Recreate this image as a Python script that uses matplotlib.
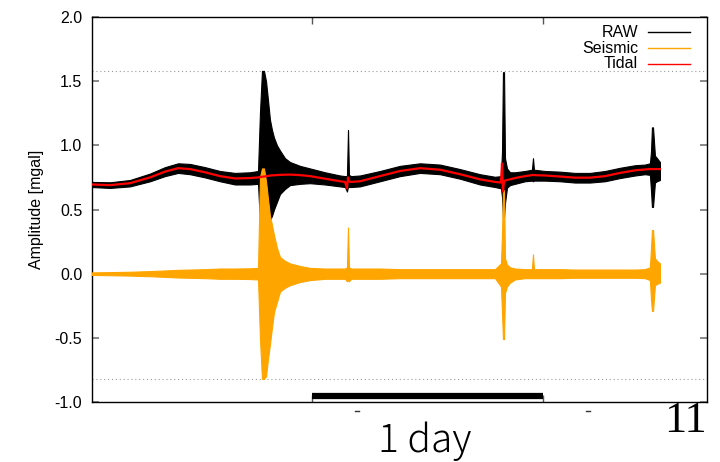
import matplotlib
matplotlib.use("Agg")
import matplotlib.pyplot as plt
from matplotlib.lines import Line2D
from matplotlib.ticker import FormatStrFormatter

plt.rcParams['axes.unicode_minus'] = False
plt.rcParams['font.family'] = ['Liberation Sans', 'DejaVu Sans']

# time in hours
t = [0.00, 1.87, 3.95, 6.03, 7.58, 8.94, 10.18, 11.74, 13.30, 14.86, 16.42, 17.25,
     17.45, 17.66, 17.87, 18.08, 18.29, 18.49, 18.70, 18.91, 19.22, 19.53, 20.05, 20.57,
     21.61, 22.65, 24.21, 25.77, 26.29, 26.49, 26.60, 26.70, 26.91, 27.84, 29.92, 32.00,
     34.08, 36.16, 38.23, 40.31, 41.87, 42.49, 42.60, 42.70, 42.81, 42.91, 43.12, 43.43,
     43.95, 44.99, 45.71, 45.82, 45.92, 47.06, 48.62, 50.18, 51.74, 53.30, 54.86, 56.42,
     57.45, 57.97, 58.08, 58.18, 58.29, 58.49, 58.70, 59.01]

tidal = [0.695, 0.690, 0.705, 0.750, 0.795, 0.822, 0.815, 0.790, 0.760, 0.742, 0.745, 0.750,
         0.752, 0.755, 0.757, 0.760, 0.762, 0.764, 0.766, 0.767, 0.768, 0.770, 0.771, 0.772,
         0.768, 0.760, 0.740, 0.720, 0.715, 0.665, 0.750, 0.720, 0.715, 0.720, 0.760, 0.800,
         0.822, 0.810, 0.775, 0.735, 0.715, 0.710, 0.860, 0.640, 0.720, 0.725, 0.730, 0.735,
         0.745, 0.760, 0.768, 0.770, 0.768, 0.765, 0.757, 0.748, 0.748, 0.760, 0.785, 0.805,
         0.812, 0.815, 0.815, 0.815, 0.815, 0.815, 0.815, 0.815]

raw_hi = [0.715, 0.712, 0.730, 0.780, 0.830, 0.860, 0.855, 0.830, 0.800, 0.785, 0.790, 0.800,
          1.250, 1.580, 1.580, 1.500, 1.350, 1.200, 1.120, 1.060, 1.000, 0.960, 0.900, 0.870,
          0.840, 0.820, 0.790, 0.765, 0.760, 0.760, 1.120, 0.770, 0.760, 0.765, 0.800, 0.840,
          0.860, 0.850, 0.815, 0.775, 0.755, 0.760, 0.950, 1.570, 1.570, 0.900, 0.820, 0.790,
          0.790, 0.800, 0.810, 0.900, 0.810, 0.800, 0.795, 0.785, 0.785, 0.800, 0.825, 0.845,
          0.850, 0.860, 0.950, 1.140, 1.140, 0.920, 0.900, 0.870]

raw_lo = [0.675, 0.668, 0.680, 0.720, 0.760, 0.785, 0.775, 0.750, 0.720, 0.695, 0.695, 0.700,
          0.400, 0.300, 0.300, 0.300, 0.300, 0.420, 0.450, 0.500, 0.560, 0.620, 0.660, 0.690,
          0.700, 0.705, 0.695, 0.680, 0.675, 0.640, 0.680, 0.675, 0.675, 0.680, 0.720, 0.760,
          0.785, 0.775, 0.740, 0.695, 0.675, 0.665, 0.600, 0.440, 0.440, 0.550, 0.670, 0.690,
          0.700, 0.720, 0.725, 0.720, 0.725, 0.725, 0.720, 0.710, 0.710, 0.720, 0.745, 0.765,
          0.775, 0.770, 0.650, 0.520, 0.520, 0.710, 0.720, 0.730]

seis_hi = [0.010, 0.012, 0.015, 0.020, 0.025, 0.030, 0.032, 0.035, 0.040, 0.040, 0.042, 0.045,
           0.750, 0.820, 0.820, 0.720, 0.580, 0.450, 0.380, 0.300, 0.200, 0.130, 0.100, 0.080,
           0.060, 0.045, 0.040, 0.040, 0.040, 0.050, 0.360, 0.050, 0.040, 0.040, 0.040, 0.035,
           0.035, 0.035, 0.035, 0.035, 0.035, 0.080, 0.300, 0.650, 0.650, 0.120, 0.070, 0.050,
           0.040, 0.035, 0.035, 0.150, 0.035, 0.035, 0.035, 0.032, 0.032, 0.032, 0.032, 0.032,
           0.035, 0.050, 0.200, 0.340, 0.340, 0.120, 0.100, 0.080]

seis_lo = [-0.010, -0.012, -0.015, -0.020, -0.025, -0.030, -0.032, -0.035, -0.040, -0.040, -0.042, -0.045,
           -0.500, -0.820, -0.820, -0.800, -0.660, -0.550, -0.420, -0.300, -0.220, -0.140, -0.110, -0.090,
           -0.065, -0.050, -0.040, -0.040, -0.040, -0.060, -0.050, -0.060, -0.040, -0.040, -0.040, -0.035,
           -0.035, -0.035, -0.035, -0.035, -0.035, -0.100, -0.300, -0.510, -0.510, -0.150, -0.100, -0.070,
           -0.045, -0.035, -0.035, -0.035, -0.035, -0.035, -0.035, -0.032, -0.032, -0.032, -0.032, -0.032,
           -0.035, -0.050, -0.200, -0.290, -0.290, -0.090, -0.080, -0.070]

y_ticks = [-1.0, -0.5, 0.0, 0.5, 1.0, 1.5, 2.0]
raw_max = 1.58
seis_min = -0.82
scale_bar = [22.86, 46.86]   # one day, hours
legend_labels = ['RAW', 'Seismic', 'Tidal']
colors = ['black', '#FFA500', '#FF0000']

fig = plt.figure(figsize=(7.2, 4.62), dpi=100)
ax = fig.add_axes([92/720, 60/462, 615/720, 385/462])

ax.fill_between(t, raw_lo, raw_hi, color=colors[0], lw=0.8, zorder=2)
ax.fill_between(t, seis_lo, seis_hi, color=colors[1], lw=0.8, zorder=3)
ax.plot(t, tidal, color=colors[2], lw=1.6, zorder=4)

ax.axhline(raw_max, color='#999999', lw=0.8, ls=(0, (1, 2.5)), zorder=1)
ax.axhline(seis_min, color='#999999', lw=0.8, ls=(0, (1, 2.5)), zorder=1)

# scale bar
ax.plot(scale_bar, [-0.955, -0.955], color='black', lw=4.5, solid_capstyle='butt', zorder=5)

ax.set_xlim(0, 63.9)
ax.set_ylim(-1.0, 2.0)
ax.set_yticks(y_ticks)
ax.yaxis.set_major_formatter(FormatStrFormatter('%.1f'))
ax.set_xticks(scale_bar)
ax.tick_params(axis='x', direction='in', top=True, bottom=True, labelbottom=False,
               length=5, color='#555555', width=1)
ax.tick_params(axis='y', direction='in', left=True, right=True, length=5,
               color='#777777', width=1.2, labelsize=11.5, pad=7)
for s in ax.spines.values():
    s.set_linewidth(1.0)
ax.set_ylabel('Amplitude [mgal]', fontsize=11.5, labelpad=8)

# legend (text then line, gnuplot style)
rows = [0.961, 0.919, 0.878]
for lab, c, yy in zip(legend_labels, colors, rows):
    ax.text(0.888, yy, lab, transform=ax.transAxes, ha='right', va='center', fontsize=11.5)
    ax.add_line(Line2D([0.904, 0.972], [yy, yy], transform=ax.transAxes, color=c, lw=1.0))

# small dashes below axis
for px in (357, 588):
    fig.add_artist(Line2D([(px - 2) / 720, (px + 2) / 720], [(462 - 411) / 462] * 2,
                          transform=fig.transFigure, color='#333333', lw=1.0))

fig.text(425 / 720, 1 - 441 / 462, '1 day', ha='center', va='center', fontsize=28,
         family=['Noto Sans CJK JP', 'DejaVu Sans'], fontweight='light')
fig.text(685 / 720, 1 - 421 / 462, '11', ha='center', va='center', fontsize=32,
         family=['Liberation Serif', 'DejaVu Serif'])

fig.savefig('out.png', dpi=100)
